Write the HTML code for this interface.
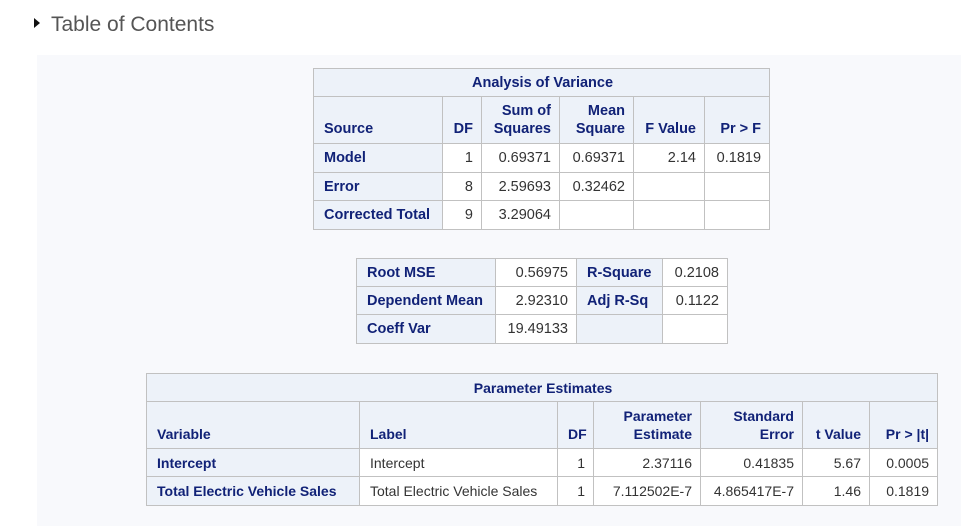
<!DOCTYPE html>
<html><head><meta charset="utf-8">
<style>
body{margin:0;width:961px;height:526px;background:#fff;position:relative;overflow:hidden;font-family:"Liberation Sans",sans-serif;}
.toc{position:absolute;left:34px;top:13px;font-size:21px;color:#555;font-weight:normal;}
.toc .tri{display:inline-block;width:0;height:0;border-left:6px solid #111;border-top:5px solid transparent;border-bottom:5px solid transparent;margin-right:11px;vertical-align:3px;}
.panel{position:absolute;left:37px;top:55px;width:924px;height:471px;background:#f8f9fc;}
table{position:absolute;border-collapse:collapse;table-layout:fixed;font-size:14.5px;color:#112277;}
td,th{border:1px solid #c1c1c1;padding:0 8px 0 10px;white-space:nowrap;overflow:hidden;}
th{background:#edf2f9;font-weight:bold;}
td{background:#fff;text-align:right;color:#333;}
th.t{text-align:center;}
th.l{text-align:left;vertical-align:middle;}
.h th{vertical-align:bottom;text-align:right;padding-bottom:5px;line-height:18px;}
.h th.l{text-align:left;vertical-align:bottom;}
th.e{background:#edf2f9;}
#pe{font-size:14px;}
</style></head><body>
<div class="toc"><span class="tri"></span>Table of Contents</div>
<div class="panel"></div>

<table style="left:313px;top:68px;width:456px;">
<colgroup><col style="width:129px"><col style="width:39px"><col style="width:78px"><col style="width:74px"><col style="width:71px"><col style="width:65px"></colgroup>
<tr style="height:28px"><th class="t" colspan="6">Analysis of Variance</th></tr>
<tr class="h" style="height:47px"><th class="l">Source</th><th>DF</th><th>Sum of<br>Squares</th><th>Mean<br>Square</th><th>F Value</th><th>Pr &gt; F</th></tr>
<tr style="height:29px"><th class="l">Model</th><td>1</td><td>0.69371</td><td>0.69371</td><td>2.14</td><td>0.1819</td></tr>
<tr style="height:28px"><th class="l">Error</th><td>8</td><td>2.59693</td><td>0.32462</td><td></td><td></td></tr>
<tr style="height:29px"><th class="l">Corrected Total</th><td>9</td><td>3.29064</td><td></td><td></td><td></td></tr>
</table>

<table style="left:356px;top:258px;width:371px;">
<colgroup><col style="width:139px"><col style="width:81px"><col style="width:86px"><col style="width:65px"></colgroup>
<tr style="height:28px"><th class="l">Root MSE</th><td>0.56975</td><th class="l">R-Square</th><td>0.2108</td></tr>
<tr style="height:28px"><th class="l">Dependent Mean</th><td>2.92310</td><th class="l">Adj R-Sq</th><td>0.1122</td></tr>
<tr style="height:29px"><th class="l">Coeff Var</th><td>19.49133</td><th class="e"></th><td></td></tr>
</table>

<table id="pe" style="left:146px;top:373px;width:791px;">
<colgroup><col style="width:213px"><col style="width:198px"><col style="width:36px"><col style="width:107px"><col style="width:102px"><col style="width:67px"><col style="width:68px"></colgroup>
<tr style="height:28px"><th class="t" colspan="7">Parameter Estimates</th></tr>
<tr class="h" style="height:47px"><th class="l">Variable</th><th class="l">Label</th><th>DF</th><th>Parameter<br>Estimate</th><th>Standard<br>Error</th><th>t Value</th><th>Pr &gt; |t|</th></tr>
<tr style="height:28px"><th class="l">Intercept</th><td style="text-align:left">Intercept</td><td>1</td><td>2.37116</td><td>0.41835</td><td>5.67</td><td>0.0005</td></tr>
<tr style="height:29px"><th class="l">Total Electric Vehicle Sales</th><td style="text-align:left">Total Electric Vehicle Sales</td><td>1</td><td>7.112502E-7</td><td>4.865417E-7</td><td>1.46</td><td>0.1819</td></tr>
</table>
</body></html>
